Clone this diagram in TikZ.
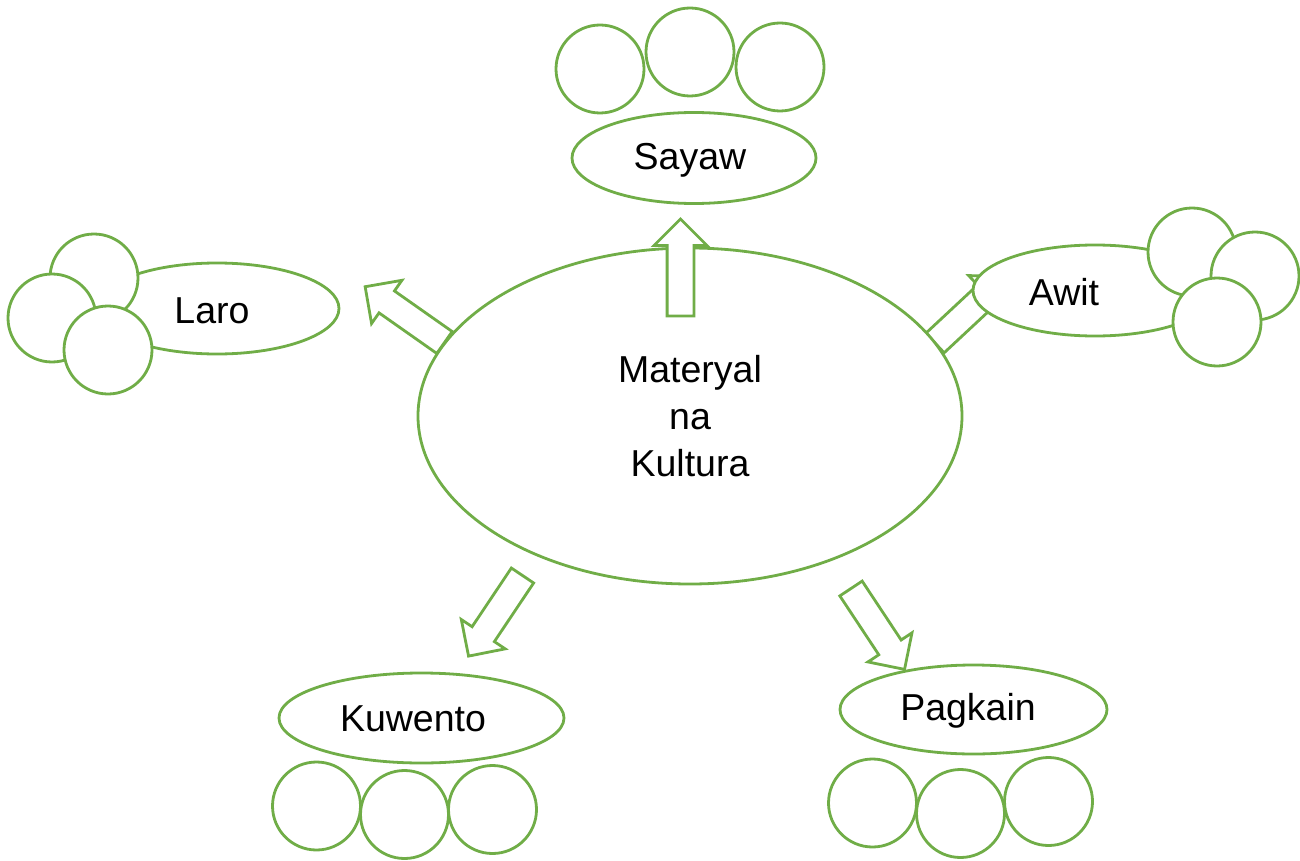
\documentclass[tikz,border=0pt]{standalone}
\usepackage{fontspec}
\setmainfont{Liberation Sans}
\usepackage{tikz}
\usetikzlibrary{shapes.geometric,shapes.arrows}
\definecolor{leafgreen}{RGB}{112,173,71}

\begin{document}
\begin{tikzpicture}[x=1pt,y=-1pt,line width=2.8pt,
  every node/.style={font=\fontsize{37.5}{47}\selectfont},
  topic/.style={ellipse,draw=leafgreen,fill=white,inner sep=0pt,minimum width=244pt,minimum height=91pt},
  bubble/.style={circle,draw=leafgreen,fill=white,inner sep=0pt,minimum size=88pt},
  block arrow/.style={single arrow,draw=leafgreen,fill=white,inner xsep=0pt,inner ysep=12pt,
    minimum height=97pt,single arrow head extend=13pt,outer sep=0pt,anchor=tail,
    single arrow head indent=0pt,single arrow tip angle=90}]

  \useasboundingbox (0,0) rectangle (1300,861);

  % arrows out of the centre
  \node[block arrow,rotate=144.9] (toLaro) at (444.5,342.5) {};
  \node[block arrow,rotate=43] (toAwit) at (935,343) {};
  \node[block arrow,rotate=236.2] (toKuwento) at (522.5,575.5) {};
  \node[block arrow,rotate=-56.5] (toPagkain) at (851,588.5) {};

  \node[topic,minimum width=544pt,minimum height=336pt,align=center] (kultura) at (690,416) {Materyal\\ na\\ Kultura};
  \node[block arrow,rotate=90] (toSayaw) at (680.5,316) {};

  % Sayaw
  \node[topic] (sayaw) at (694,158) {};
  \node (sayawText) at (690,160) {Sayaw};
  \node[bubble] (sayaw1) at (600,69) {};
  \node[bubble] (sayaw2) at (690,52) {};
  \node[bubble] (sayaw3) at (780,67) {};

  % Laro
  \node[topic] (laro) at (217,308.5) {};
  \node (laroText) at (212,311) {Laro};
  \node[bubble] (laro1) at (94,278) {};
  \node[bubble] (laro2) at (52,318) {};
  \node[bubble] (laro3) at (108,350) {};

  % Awit
  \node[topic] (awit) at (1095,290.5) {};
  \node (awitText) at (1064,292) {Awit};
  \node[bubble] (awit1) at (1192,252) {};
  \node[bubble] (awit2) at (1255,276) {};
  \node[bubble] (awit3) at (1217,322) {};

  % Kuwento
  \node[topic,minimum width=285pt,minimum height=90pt] (kuwento) at (421.5,718) {};
  \node (kuwentoText) at (413,719) {Kuwento};
  \node[bubble] (kuwento1) at (316.5,806) {};
  \node[bubble] (kuwento2) at (404.5,814.5) {};
  \node[bubble] (kuwento3) at (492.5,809.5) {};

  % Pagkain
  \node[topic,minimum width=267pt,minimum height=89pt] (pagkain) at (973.5,709.5) {};
  \node (pagkainText) at (968,711) {Pagkain};
  \node[bubble] (pagkain1) at (872.5,803) {};
  \node[bubble] (pagkain2) at (960.5,813.5) {};
  \node[bubble] (pagkain3) at (1048.5,801.5) {};
\end{tikzpicture}
\end{document}
